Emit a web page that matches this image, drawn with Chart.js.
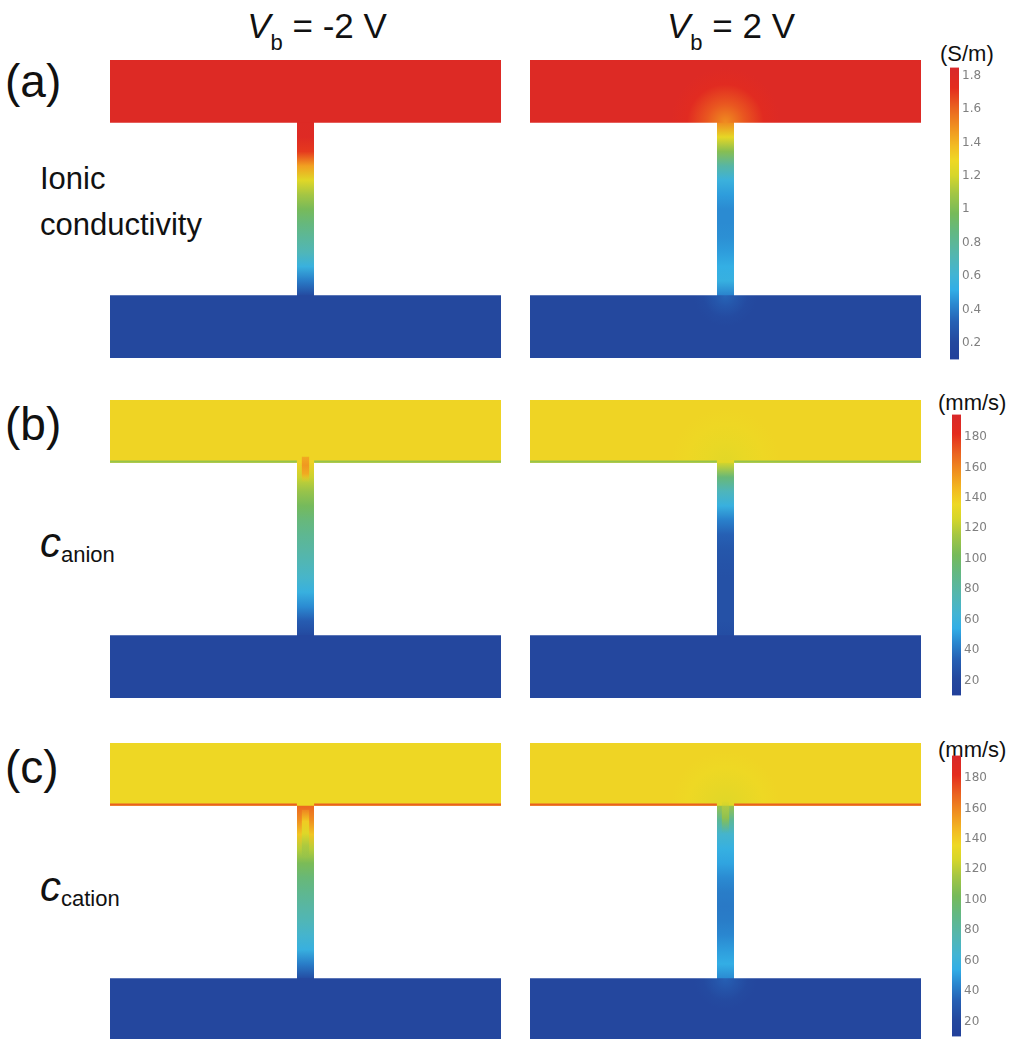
<!DOCTYPE html>
<html>
<head>
<meta charset="utf-8">
<script src="https://cdn.jsdelivr.net/npm/chart.js@4.4.0/dist/chart.umd.min.js"></script>
<style>
html, body { margin: 0; padding: 0; background: #fff; overflow: hidden; }
#fig { position: relative; width: 1014px; height: 1039px; overflow: hidden;
       font-family: "Liberation Sans", Arial, sans-serif; color: #111; }
#fig canvas, #fig .lbl { position: absolute; }
#fig canvas.map { filter: blur(0.5px); }
.lbl { line-height: 1; white-space: nowrap; }
.title { font-size: 35px; transform: translateX(-50%); }
.title sub { font-size: 22px; vertical-align: baseline; position: relative; top: 12px; }
.tag { font-size: 46px; }
.name { font-size: 31px; line-height: 46px; }
.sym { font-size: 42px; }
.sym sub { font-size: 22px; font-style: normal; vertical-align: baseline; position: relative; top: 5px; }
.unit { font-size: 22px; }
</style>
</head>
<body>
<div id="fig">
  <div class="lbl title" style="left:317px; top:8px"><i>V</i><sub>b</sub> = -2 V</div>
  <div class="lbl title" style="left:731px; top:8px"><i>V</i><sub>b</sub> = 2 V</div>

  <div class="lbl tag" style="left:5px; top:58px">(a)</div>
  <div class="lbl tag" style="left:5px; top:401px">(b)</div>
  <div class="lbl tag" style="left:5px; top:744px">(c)</div>

  <div class="lbl name" style="left:40px; top:156px">Ionic<br>conductivity</div>
  <div class="lbl sym" style="left:40px; top:522px"><i>c</i><sub>anion</sub></div>
  <div class="lbl sym" style="left:40px; top:866px"><i>c</i><sub>cation</sub></div>

  <div class="lbl unit" style="left:940px; top:43px">(S/m)</div>
  <div class="lbl unit" style="left:938px; top:392px">(mm/s)</div>
  <div class="lbl unit" style="left:938px; top:739px">(mm/s)</div>

  <canvas class="map" id="p0" width="391" height="298" style="left:110px; top:60px"></canvas>
  <canvas class="map" id="p1" width="391" height="298" style="left:530px; top:60px"></canvas>
  <canvas class="map" id="p2" width="391" height="298" style="left:110px; top:400px"></canvas>
  <canvas class="map" id="p3" width="391" height="298" style="left:530px; top:400px"></canvas>
  <canvas class="map" id="p4" width="391" height="298" style="left:110px; top:743px"></canvas>
  <canvas class="map" id="p5" width="391" height="298" style="left:530px; top:743px"></canvas>

  <canvas id="cb0" width="50" height="313" style="left:950px; top:57px"></canvas>
  <canvas id="cb1" width="50" height="302" style="left:952px; top:404px"></canvas>
  <canvas id="cb2" width="50" height="302" style="left:952px; top:745px"></canvas>
</div>

<script>
// colour bar ranges and ticks
const condRange = [0.1, 1.85];   // S/m
const velRange = [10, 195];      // mm/s
const condTicks = [0.2, 0.4, 0.6, 0.8, 1, 1.2, 1.4, 1.6, 1.8];
const condTickLabels = ['0.2', '0.4', '0.6', '0.8', '1', '1.2', '1.4', '1.6', '1.8'];
const velTicks = [20, 40, 60, 80, 100, 120, 140, 160, 180];
const velTickLabels = ['20', '40', '60', '80', '100', '120', '140', '160', '180'];

// device geometry (model units)
const reservoirX = [-50, 50];
const topReservoirY = [60, 76];
const bottomReservoirY = [0, 16];
const channelX = [-2.2, 2.2];
const channelY = [16, 60];
const coreX = [-1.0, 1.0];

// panels: a(-2V), a(2V), b(-2V), b(2V), c(-2V), c(2V)
const topValues = [1.8, 1.8, 137, 137, 136, 137];
const bottomValues = [0.2, 0.2, 20, 20, 20, 20];
const topGlow = [null, 1.5, null, 131, null, 130];
const bottomGlow = [null, 0.34, null, null, null, 34];
const edgeValues = [null, null, 112, 112, 170, 170];

// values along the channel, from the top reservoir down to the bottom one
const condNeg = [1.8, 1.79, 1.7, 1.45, 1.24, 1.1, 0.98, 0.88, 0.79, 0.7, 0.56, 0.4, 0.22];
const condPos = [1.5, 1.26, 1.02, 0.76, 0.57, 0.48, 0.44, 0.44, 0.45, 0.48, 0.53, 0.55, 0.42];
const anionNeg = [138, 124, 112, 102, 93, 86, 80, 74, 67, 58, 46, 32, 22];
const anionPos = [126, 94, 72, 58, 43, 34, 29, 27, 26, 26, 26, 26, 24];
const cationNeg = [168, 158, 142, 120, 104, 94, 87, 80, 74, 66, 58, 42, 24];
const cationPos = [112, 84, 66, 57, 52, 46, 42, 41, 42, 45, 50, 55, 46];

// centre of the channel near its mouth
const anionNegCore = [150, 155, 150, 140];
const anionNegCoreY = [55, 61.5];
const cationNegCore = [150, 140, 130, 118, 104];
const cationNegCoreY = [47, 59];
const cationPosCore = [126, 110, 94];
const cationPosCoreY = [53, 61];

// rainbow colour map
const rainbow = [
  [0.00, [34, 64, 154]], [0.06, [36, 72, 158]], [0.13, [38, 96, 180]],
  [0.19, [42, 136, 208]], [0.24, [50, 174, 230]], [0.29, [66, 180, 212]],
  [0.36, [84, 182, 174]], [0.44, [100, 184, 128]], [0.50, [118, 186, 90]],
  [0.57, [164, 198, 68]], [0.63, [214, 214, 42]], [0.68, [238, 216, 36]],
  [0.73, [242, 188, 34]], [0.79, [240, 148, 32]], [0.86, [234, 100, 32]],
  [0.93, [228, 44, 30]], [1.00, [216, 40, 42]]
];

function colorAt(t, a) {
  t = Math.max(0, Math.min(1, t));
  let i = 0;
  while (i < rainbow.length - 2 && t > rainbow[i + 1][0]) i++;
  const [t0, c0] = rainbow[i], [t1, c1] = rainbow[i + 1];
  const f = (t - t0) / (t1 - t0);
  const c = c0.map((v, k) => Math.round(v + (c1[k] - v) * f));
  return 'rgba(' + c.join(',') + ',' + (a == null ? 1 : a) + ')';
}

function colorOf(v, range, a) {
  return colorAt((v - range[0]) / (range[1] - range[0]), a);
}

// fade: 0 none, 1 fade out at the bottom, 2 fade in and out
function vertGradient(vals, range, yTop, yBottom, fade) {
  return function(context) {
    const chart = context.chart;
    if (!chart.chartArea) return colorOf(vals[0], range);
    const ys = chart.scales.y;
    const g = chart.ctx.createLinearGradient(0, ys.getPixelForValue(yTop), 0, ys.getPixelForValue(yBottom));
    const last = vals.length - 1;
    vals.forEach((v, i) => {
      let alpha = 1;
      if (fade && i === last) alpha = 0;
      if (fade === 2 && i === 0) alpha = 0.3;
      g.addColorStop(i / last, colorOf(v, range, alpha));
    });
    return g;
  };
}

function glowGradient(base, glow, range, yMouth, radius) {
  if (glow == null) return colorOf(base, range);
  return function(context) {
    const chart = context.chart;
    if (!chart.chartArea) return colorOf(base, range);
    const xs = chart.scales.x, ys = chart.scales.y;
    const cx = xs.getPixelForValue(0), cy = ys.getPixelForValue(yMouth);
    const r = Math.abs(xs.getPixelForValue(radius) - cx);
    const g = chart.ctx.createRadialGradient(cx, cy, 0, cx, cy, r);
    g.addColorStop(0, colorOf(glow, range));
    g.addColorStop(0.35, colorOf(glow + (base - glow) * 0.45, range));
    g.addColorStop(0.7, colorOf(glow + (base - glow) * 0.85, range));
    g.addColorStop(1, colorOf(base, range));
    return g;
  };
}

// filled box: line along the top edge, filled down to the bottom edge
function box(xs, ys, bg) {
  return {
    data: [{x: xs[0], y: ys[1]}, {x: xs[1], y: ys[1]}],
    fill: {value: ys[0]},
    backgroundColor: bg,
    borderColor: 'transparent',
    borderWidth: 0,
    pointRadius: 0
  };
}

function panel(id, k, range, profile, core, coreY, coreFade) {
  const sets = [];
  // channel sits under the reservoirs, a bit longer so no seam shows
  sets.push(box(channelX, [channelY[0] - 0.5, channelY[1] + 0.5],
    vertGradient(profile, range, channelY[1], channelY[0], 0)));
  sets.push(box(reservoirX, topReservoirY,
    glowGradient(topValues[k], topGlow[k], range, topReservoirY[0], 14)));
  sets.push(box(reservoirX, bottomReservoirY,
    glowGradient(bottomValues[k], bottomGlow[k], range, bottomReservoirY[1], 8)));
  if (core) {
    sets.push(box(coreX, coreY, vertGradient(core, range, coreY[1], coreY[0], coreFade)));
  }
  if (edgeValues[k] != null) {
    const y = topReservoirY[0] + 0.3;
    sets.push({
      data: [{x: reservoirX[0], y: y}, {x: channelX[0], y: y}, {x: 0, y: null},
             {x: channelX[1], y: y}, {x: reservoirX[1], y: y}],
      borderColor: colorOf(edgeValues[k], range),
      borderWidth: 2.2,
      pointRadius: 0,
      fill: false,
      spanGaps: false
    });
  }
  // first dataset at the bottom
  sets.forEach((s, i) => { s.order = sets.length - i; });

  new Chart(document.getElementById(id), {
    type: 'line',
    data: {datasets: sets},
    options: {
      responsive: false,
      animation: false,
      devicePixelRatio: 1,
      events: [],
      layout: {padding: 0},
      plugins: {legend: {display: false}, tooltip: {enabled: false}},
      scales: {
        x: {type: 'linear', min: reservoirX[0], max: reservoirX[1], display: false},
        y: {type: 'linear', min: bottomReservoirY[0], max: topReservoirY[1], display: false}
      }
    }
  });
}

function colorbar(id, range, ticks, labels) {
  const bar = box([0, 1], range, function(context) {
    const chart = context.chart;
    if (!chart.chartArea) return colorAt(0.5);
    const ys = chart.scales.y;
    const g = chart.ctx.createLinearGradient(0, ys.getPixelForValue(range[0]), 0, ys.getPixelForValue(range[1]));
    rainbow.forEach(s => g.addColorStop(s[0], colorAt(s[0])));
    return g;
  });
  new Chart(document.getElementById(id), {
    type: 'line',
    data: {datasets: [bar]},
    options: {
      responsive: false,
      animation: false,
      devicePixelRatio: 1,
      events: [],
      layout: {padding: {top: 10, bottom: 10, left: 0, right: 0}},
      plugins: {legend: {display: false}, tooltip: {enabled: false}},
      scales: {
        x: {type: 'linear', min: 0, max: 1, display: false},
        y: {
          type: 'linear', position: 'right', min: range[0], max: range[1],
          afterBuildTicks: axis => { axis.ticks = ticks.map(v => ({value: v})); },
          afterFit: axis => { axis.width = 41; },
          grid: {display: false, drawTicks: false},
          border: {display: false},
          ticks: {
            padding: 3, color: '#808080',
            font: {family: 'DejaVu Sans', size: 12},
            callback: (v, i) => labels[i]
          }
        }
      }
    }
  });
}

panel('p0', 0, condRange, condNeg);
panel('p1', 1, condRange, condPos);
panel('p2', 2, velRange, anionNeg, anionNegCore, anionNegCoreY, 1);
panel('p3', 3, velRange, anionPos);
panel('p4', 4, velRange, cationNeg, cationNegCore, cationNegCoreY, 2);
panel('p5', 5, velRange, cationPos, cationPosCore, cationPosCoreY, 2);

colorbar('cb0', condRange, condTicks, condTickLabels);
colorbar('cb1', velRange, velTicks, velTickLabels);
colorbar('cb2', velRange, velTicks, velTickLabels);
</script>
</body>
</html>
